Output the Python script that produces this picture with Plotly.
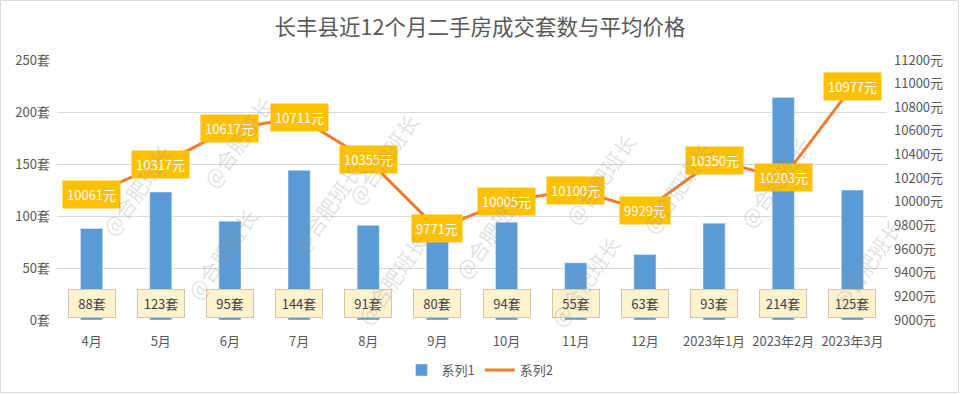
import plotly.graph_objects as go

months = ["4月", "5月", "6月", "7月", "8月", "9月", "10月", "11月", "12月",
          "2023年1月", "2023年2月", "2023年3月"]
counts = [88, 123, 95, 144, 91, 80, 94, 55, 63, 93, 214, 125]
prices = [10061, 10317, 10617, 10711, 10355, 9771, 10005, 10100, 9929, 10350, 10203, 10977]
left_ticks = [0, 50, 100, 150, 200, 250]
right_ticks = [9000, 9200, 9400, 9600, 9800, 10000, 10200, 10400, 10600, 10800, 11000, 11200]

W, H = 960, 394
ML, MR, MT, MB = 57, 73, 60, 74
PW, PH = W - ML - MR, H - MT - MB

FONT = "Noto Sans CJK SC"
GREY = "#595959"

fig = go.Figure()
fig.add_trace(go.Bar(x=months, y=counts, name="系列1", marker_color="#5B9BD5",
                     width=0.32, yaxis="y"))
fig.add_trace(go.Scatter(x=months, y=prices, name="系列2", mode="lines",
                         line=dict(color="#ED7D31", width=3), yaxis="y2"))

annotations = []
# bar value labels (pale boxes near the bottom of the bars)
for m, c in zip(months, counts):
    annotations.append(dict(x=m, y=16, xref="x", yref="y", text=f"{c}套",
                            showarrow=False, font=dict(family=FONT, size=13, color="#404040"),
                            bgcolor="#FFF2CC", bordercolor="#CFC6AE", borderwidth=1,
                            borderpad=4, width=38))
# price labels (gold boxes centred on the line points)
for m, p in zip(months, prices):
    annotations.append(dict(x=m, y=p, xref="x", yref="y2", text=f"{p}元",
                            showarrow=False, font=dict(family=FONT, size=13, color="white"),
                            bgcolor="#FFC000", borderpad=4))

# watermark "@合肥班长" (pixel positions in the picture)
wm_px = [(193, 88), (92, 190), (383, 105), (282, 208),
         (177, 308), (600, 125), (490, 233), (392, 333),
         (820, 128), (722, 242), (630, 335), (912, 318)]
for px, py in wm_px:
    annotations.append(dict(x=(px - ML) / PW, y=(H - MB - py) / PH, xref="paper", yref="paper",
                            text="@合肥班长", showarrow=False, textangle=-55,
                            font=dict(family=FONT, size=21, color="rgba(150,150,150,0.3)")))

fig.update_layout(
    width=W, height=H,
    margin=dict(l=ML, r=MR, t=MT, b=MB, autoexpand=False),
    paper_bgcolor="white", plot_bgcolor="white",
    font=dict(family=FONT, size=13, color=GREY),
    title=dict(text="长丰县近12个月二手房成交套数与平均价格", x=0.5, xref="container",
               xanchor="center", y=1 - 27 / H, yref="container", yanchor="middle",
               font=dict(family=FONT, size=21.5, color=GREY)),
    xaxis=dict(type="category", showgrid=False, showline=False, ticks="", automargin=False,
               ticklabelstandoff=12, tickfont=dict(size=13, color=GREY)),
    yaxis=dict(range=[0, 250], tickvals=left_ticks, automargin=False,
               ticktext=[f"{v}套" for v in left_ticks], ticklabelstandoff=6,
               showgrid=True, gridcolor="#D9D9D9", gridwidth=1, zeroline=False,
               showline=False, tickfont=dict(size=13, color=GREY)),
    yaxis2=dict(range=[9000, 11200], tickvals=right_ticks, automargin=False,
                ticktext=[f"{v}元" for v in right_ticks], ticklabelstandoff=6,
                overlaying="y", side="right", showgrid=False, zeroline=False,
                showline=False, tickfont=dict(size=13, color=GREY)),
    legend=dict(orientation="h", x=0.5, xref="container", xanchor="center",
                y=1 - 370 / H, yref="container", yanchor="middle",
                font=dict(size=13, color=GREY)),
    annotations=annotations,
    shapes=[dict(type="rect", xref="paper", yref="paper",
                 x0=-(ML - 0.5) / PW, x1=1 + (MR - 1.5) / PW,
                 y0=-(MB - 1.5) / PH, y1=1 + (MT - 0.5) / PH,
                 line=dict(color="#D9D9D9", width=1))],
)

fig.write_html("out.html", config={"displayModeBar": False},
               post_script="document.body.style.margin='0';")
